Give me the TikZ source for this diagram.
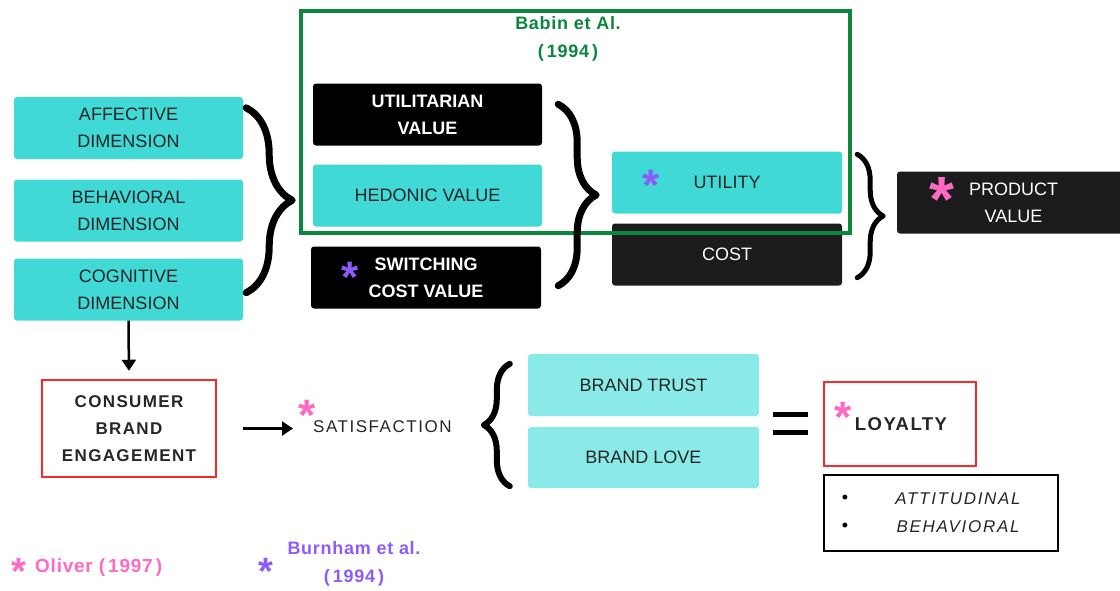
\documentclass[tikz,border=0pt]{standalone}
\usepackage{fontspec}
\setmainfont{Liberation Sans}
\usetikzlibrary{arrows.meta,positioning,calc,decorations.pathreplacing}
\definecolor{dimTeal}{RGB}{64,217,214}
\definecolor{paleTeal}{RGB}{137,234,232}
\definecolor{nearBlack}{RGB}{28,28,28}
\definecolor{inkGray}{RGB}{38,38,38}
\definecolor{babinGreen}{RGB}{10,135,60}
\definecolor{alertRed}{RGB}{250,40,40}
\definecolor{oliverPink}{RGB}{255,105,196}
\definecolor{burnhamPurple}{RGB}{140,92,250}
\newcommand{\spaced}[1]{\addfontfeature{LetterSpace=#1}}
\tikzset{
  tealbox/.style={
    rectangle, rounded corners=3pt, fill=dimTeal, text=inkGray,
    minimum width=229pt, minimum height=62pt, align=center,
    font=\fontsize{18}{27}\selectfont
  },
  paletealbox/.style={tealbox, fill=paleTeal},
  darkbox/.style={tealbox, fill=black, text=white,
    font=\fontsize{18}{27}\selectfont\bfseries},
  redbox/.style={
    rectangle, draw=alertRed, line width=2.5pt, align=center, text=inkGray,
    font=\fontsize{17}{27}\selectfont\bfseries\spaced{8}
  },
  starmark/.style={inner sep=0pt, anchor=base,
    font=\fontsize{44}{44}\selectfont\bfseries},
  refnote/.style={align=center, font=\fontsize{18}{28}\selectfont\bfseries\spaced{4}},
  curly/.style={decorate, decoration={brace, amplitude=#1},
    line width=7pt, line cap=round, line join=round},
  flowArrow/.style={-{Triangle[width=14pt,length=11pt]}, line width=2.5pt}
}
\begin{document}
\begin{tikzpicture}[x=1pt,y=-1pt]
\useasboundingbox (0,0) rectangle (1120,590);
% engagement dimensions
\node[tealbox] (aff) at (128.5,128) {AFFECTIVE\\DIMENSION};
\node[tealbox] (beh) at (128.5,210.5) {BEHAVIORAL\\DIMENSION};
\node[tealbox] (cog) at (128.5,289.5) {COGNITIVE\\DIMENSION};
% value types
\node[darkbox] (util) at (427.5,114.5) {UTILITARIAN\\VALUE};
\node[tealbox] (hed) at (427.5,195.5) {HEDONIC VALUE};
\node[darkbox, minimum width=230pt] (swc) at (426,277.5) {SWITCHING\\COST VALUE};
\node[tealbox, minimum width=230pt] (uty) at (727,182.5) {UTILITY};
\node[darkbox, fill=nearBlack, minimum width=230pt,
      font=\fontsize{18}{27}\selectfont] (cost) at (727,254.5) {COST};
\node[darkbox, fill=nearBlack, minimum width=233pt,
      font=\fontsize{18}{27}\selectfont] (prod) at (1013.5,202.5) {PRODUCT\\VALUE};
% Babin frame on top of the value boxes
\node[draw=babinGreen, line width=3.5pt, minimum width=549pt,
      minimum height=222pt] (babin) at (575.5,122) {};
\node[refnote, text=babinGreen] (babinref) at (568,39) {Babin et Al.\\(\kern3pt1994\kern3pt)};
% braces
\draw[curly=46] ($(aff.north east)+(3,11)$) -- ($(cog.south east)+(3,-28)$);
\draw[curly=38] ($(util.north east)+(16,21)$) -- ($(swc.south east)+(17,-23)$);
\draw[curly=26, line width=5pt] ($(uty.north east)+(15,3)$) -- ($(cost.south east)+(15,-8)$);
% loyalty chain
\node[redbox, minimum width=174pt, minimum height=97pt] (cons) at (129,428.5)
  {CONSUMER\\BRAND\\ENGAGEMENT};
\node[anchor=west, inner sep=0pt, text=inkGray,
      font=\fontsize{17}{20}\selectfont\spaced{9}] (sat) at (313,427) {SATISFACTION};
\node[paletealbox, minimum width=231pt] (trust) at (643.5,385) {BRAND TRUST};
\node[paletealbox, minimum width=231pt, minimum height=61pt] (love) at (643.5,457.5) {BRAND LOVE};
\draw[curly=26, line width=6pt] ($(love.south west)+(-18,-2)$) -- ($(trust.north west)+(-18,10)$);
\draw[line width=5pt] (773,414.5) -- (808,414.5);
\draw[line width=5pt] (773,432.5) -- (808,432.5);
\node[redbox, minimum width=152pt, minimum height=84pt,
      font=\fontsize{18.5}{27}\selectfont\bfseries\spaced{8}] (loy) at (900,424) {\hspace{2pt}LOYALTY};
\node[draw=black, line width=2pt, minimum width=234pt, minimum height=76pt] (kinds) at (941,513) {};
\node[font=\fontsize{18}{20}\selectfont] (bulA) at (845,499) {\textbullet};
\node[font=\fontsize{18}{20}\selectfont] (bulB) at (845,527) {\textbullet};
\node[text=inkGray, font=\fontsize{17}{20}\selectfont\itshape\spaced{10}] (att) at (958,499) {ATTITUDINAL};
\node[text=inkGray, font=\fontsize{17}{20}\selectfont\itshape\spaced{10}] (bhv) at (958,527) {BEHAVIORAL};
% arrows
\draw[flowArrow, shorten >=8pt] (cog.south) -- (cons.north);
\draw[flowArrow, shorten <=26pt, shorten >=20pt] (cons.east) -- (cons.east -| sat.west);
% source marks
\node[starmark, text=burnhamPurple] (swcstar) at (350,292) {*};
\node[starmark, text=burnhamPurple] (utystar) at (651,200) {*};
\node[starmark, text=oliverPink, font=\fontsize{64}{64}\selectfont\bfseries] (prodstar) at (942,221) {*};
\node[starmark, text=oliverPink] (satstar) at (307,430) {*};
\node[starmark, text=oliverPink] (loystar) at (843,432) {*};
\node[starmark, text=oliverPink, font=\fontsize{38}{38}\selectfont\bfseries] (olistar) at (19,584) {*};
\node[starmark, text=burnhamPurple, font=\fontsize{38}{38}\selectfont\bfseries] (burstar) at (266,584) {*};
% legend
\node[refnote, anchor=west, inner sep=0pt, text=oliverPink,
      font=\fontsize{19}{28}\selectfont\bfseries\spaced{4}] (oliver) at (35,568)
  {Oliver (\kern3pt1997\kern3pt)};
\node[refnote, text=burnhamPurple] (burnham) at (354,564) {Burnham et al.\\(\kern3pt1994\kern3pt)};
\end{tikzpicture}
\end{document}
